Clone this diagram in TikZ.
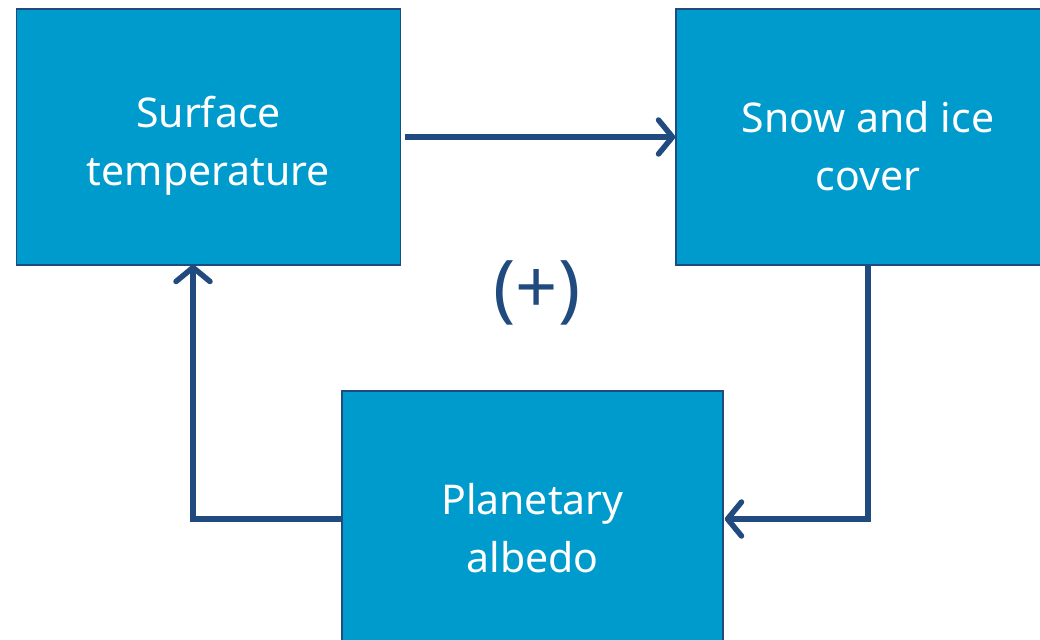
\documentclass[tikz,border=0pt]{standalone}
\usepackage{fontspec}
\setmainfont{Noto Sans}
\usetikzlibrary{arrows.meta}
\definecolor{boxfill}{RGB}{0,155,205}
\definecolor{darkline}{RGB}{33,75,126}
\tikzset{
  box/.style={draw=darkline, line width=1.5pt, fill=boxfill,
    minimum width=384pt, minimum height=256pt, inner sep=0pt},
  txt/.style={text=white, align=center, inner sep=0pt,
    font=\fontsize{41}{58}\selectfont, yshift=-9pt},
  conn/.style={draw=darkline, line width=5.5pt,
    -{Straight Barb[length=14pt,width=34pt,line cap=round,line join=round]}}
}
\begin{document}
\begin{tikzpicture}[x=1pt,y=-1pt]
\useasboundingbox (0,0) rectangle (1040,639);
\clip (0,0) rectangle (1040,639);
\node[box, label={[txt]center:Surface\\temperature}] (ST) at (208.5,137) {};
\node[box, label={[txt]center:Snow and ice\\cover}] (SI) at (868,137) {};
\node[box, minimum width=381pt, label={[txt]center:Planetary\\albedo}] (PA) at (532.5,519) {};
\node[text=darkline, font=\fontsize{74}{80}\selectfont] (PL) at (537,293) {(+)};
\draw[conn] ([xshift=4pt]ST.east) -- (SI.west);
\draw[conn] (SI.south) |- ([xshift=1pt]PA.east);
\draw[conn] (PA.west) -| ([xshift=-15.5pt,yshift=1pt]ST.south);
\end{tikzpicture}
\end{document}
